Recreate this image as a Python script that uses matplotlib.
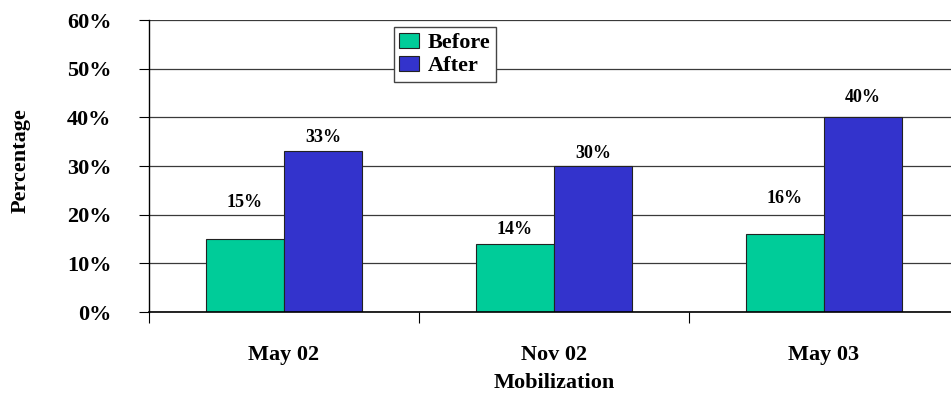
import matplotlib.pyplot as plt
import numpy as np

# Survey rounds and share of respondents before / after
periods = ['May 02', 'Nov 02', 'May 03']
before = [15, 14, 16]
after = [33, 30, 40]
# label offsets above bar tops (points)
before_offsets = [26, 10, 26]
after_offsets = [10, 9, 14]

plt.rcParams['font.family'] = ['Liberation Serif', 'DejaVu Serif']
plt.rcParams['font.weight'] = 'bold'

fig = plt.figure(figsize=(9.51, 4.0), dpi=100)
ax = fig.add_axes([0.1567, 0.22, 0.8517, 0.73])

x = np.arange(len(periods))
width = 0.289

bars_b = ax.bar(x - width / 2, before, width, color='#00CC99', edgecolor='#222222',
                linewidth=0.8, label='Before', zorder=2)
bars_a = ax.bar(x + width / 2, after, width, color='#3333CC', edgecolor='#222222',
                linewidth=0.8, label='After', zorder=2)

for bars, vals, offs in [(bars_b, before, before_offsets), (bars_a, after, after_offsets)]:
    for b, v, o in zip(bars, vals, offs):
        ax.annotate(f'{v}%', (b.get_x() + b.get_width() / 2, v),
                    xytext=(0, o), textcoords='offset points',
                    ha='center', va='center', fontsize=13, fontweight='bold')

# Axes limits and grid
ax.set_xlim(-0.5, len(periods) - 0.5)
ax.set_ylim(0, 60)
ax.set_yticks(np.arange(0, 61, 10))
ax.set_yticklabels([f'{v}%' for v in range(0, 61, 10)], fontsize=16, fontweight='bold')
ax.yaxis.grid(True, color='#3a3a3a', linewidth=0.9, zorder=0)
ax.set_axisbelow(True)

ax.set_xticks(x)
ax.set_xticklabels(periods, fontsize=16, fontweight='bold')
ax.set_xticks(np.arange(-0.5, len(periods), 1.0), minor=True)
ax.tick_params(axis='x', which='major', length=0, pad=24)
ax.tick_params(axis='x', which='minor', length=8, direction='out', width=0.8)
ax.tick_params(axis='y', length=7, direction='out', width=0.8, pad=20)

for side in ['top', 'right']:
    ax.spines[side].set_visible(False)
ax.spines['left'].set_linewidth(1.0)
ax.spines['bottom'].set_linewidth(1.2)

ax.set_ylabel('Percentage', fontsize=16, fontweight='bold')
ax.yaxis.set_label_coords(-0.159, 0.52)
ax.yaxis.label.set_va('center')
ax.set_xlabel('Mobilization', fontsize=16, fontweight='bold')
ax.xaxis.set_label_coords(0.5, -0.243)
ax.xaxis.label.set_va('center')

leg = ax.legend(loc='upper left', bbox_to_anchor=(0.302, 0.975), fancybox=False,
                edgecolor='#444444', framealpha=1, prop={'size': 16, 'weight': 'bold'},
                handlelength=0.9, handleheight=0.7, handletextpad=0.4,
                borderpad=0.25, labelspacing=0.1, borderaxespad=0)
leg.get_frame().set_linewidth(1.0)

fig.savefig('out.png', dpi=100)
